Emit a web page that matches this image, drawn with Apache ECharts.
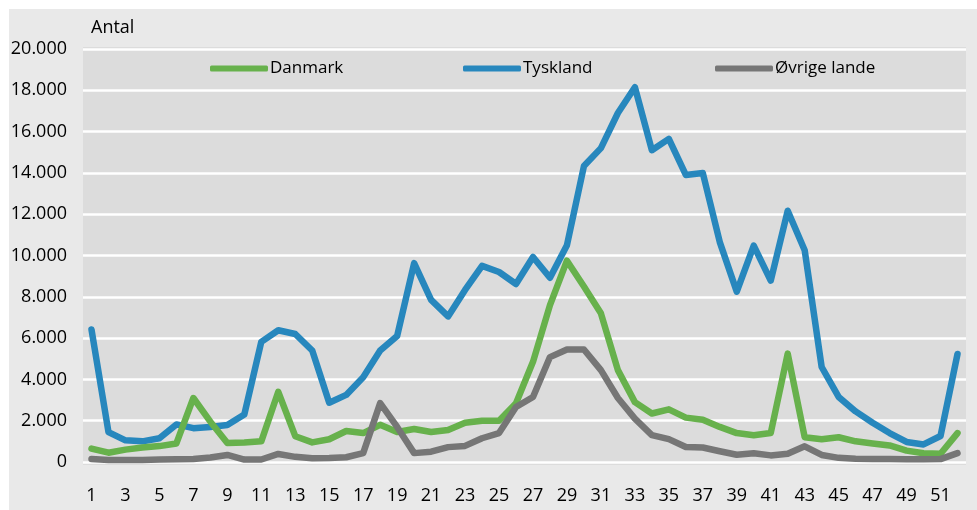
<!DOCTYPE html>
<html><head><meta charset="utf-8">
<script src="https://cdn.jsdelivr.net/npm/echarts@6/dist/echarts.min.js"></script>
<style>html,body{margin:0;padding:0;background:#fff}#c{width:977px;height:510px}</style>
</head><body><div id="c"></div>
<script>
const weeks = Array.from({length:52},(_,i)=>String(i+1));
const danmark = [650,450,600,700,770,900,3100,1950,920,950,1000,3400,1250,950,1100,1500,1400,1800,1450,1600,1450,1550,1900,2000,2000,2850,4850,7600,9750,8500,7200,4450,2900,2350,2550,2150,2050,1700,1400,1300,1400,5250,1200,1100,1200,1000,900,800,550,420,400,1400];
const tyskland = [6420,1450,1050,1000,1150,1820,1640,1700,1790,2300,5820,6380,6200,5400,2870,3250,4100,5400,6100,9630,7850,7050,8330,9500,9200,8620,9930,8920,10500,14330,15200,16900,18150,15100,15650,13900,14000,10650,8250,10480,8780,12170,10250,4600,3150,2450,1900,1400,970,850,1260,5230];
const ovrige = [150,100,100,100,120,130,150,220,340,120,120,390,250,180,190,230,430,2850,1700,430,500,720,780,1150,1400,2660,3150,5080,5450,5450,4450,3100,2100,1300,1110,730,700,520,350,420,320,400,760,340,200,160,140,140,130,130,140,430];
const yTicks = [0,2000,4000,6000,8000,10000,12000,14000,16000,18000,20000];
const names = ['Danmark','Tyskland','Øvrige lande'];
const colors = ['#67b14c','#2787bd','#767676'];
const FONT = 'Open Sans';
const fmt = v => v === 0 ? '0' : String(v).replace(/\B(?=(\d{3})+(?!\d))/g,'.');
const chart = echarts.init(document.getElementById('c'));
const legendLefts = [205,458,710];
chart.setOption({
  animation:false,
  backgroundColor:'#ffffff',
  graphic:[
    {type:'rect',z:-10,shape:{x:9,y:9,width:968,height:501},style:{fill:'#e9e9e9'}},
    {type:'rect',z:-9,shape:{x:83,y:47,width:883,height:418},style:{fill:'#dcdcdc'}},
    {type:'text',left:91,top:19,style:{text:'Antal',font:'18px "Open Sans"',fill:'#000'}}
  ],
  legend: names.map((n,i)=>({
    data:[n],left:legendLefts[i],top:55,icon:'roundRect',itemWidth:58,itemHeight:6,itemGap:0,
    textStyle:{fontFamily:FONT,fontSize:17,color:'#000',padding:[0,0,0,-3]}
  })),
  grid:{left:83,right:11,top:49,bottom:48,containLabel:false},
  xAxis:{type:'category',data:weeks,boundaryGap:true,
    axisLine:{show:false},axisTick:{show:false},
    axisLabel:{interval:1,margin:25,fontFamily:FONT,fontSize:18,color:'#000'}},
  yAxis:{type:'value',min:yTicks[0],max:yTicks[yTicks.length-1],interval:yTicks[1]-yTicks[0],
    axisLine:{show:false},axisTick:{show:false},
    splitLine:{lineStyle:{color:'#ffffff',width:2.5}},
    axisLabel:{margin:16,fontFamily:FONT,fontSize:18,color:'#000',formatter:fmt}},
  series:[danmark,tyskland,ovrige].map((d,i)=>({
    name:names[i],type:'line',data:d,symbol:'none',
    lineStyle:{width:6.5,color:colors[i],cap:'round',join:'round'},
    itemStyle:{color:colors[i]},z:[3,2,4][i]
  }))
});
</script></body></html>
